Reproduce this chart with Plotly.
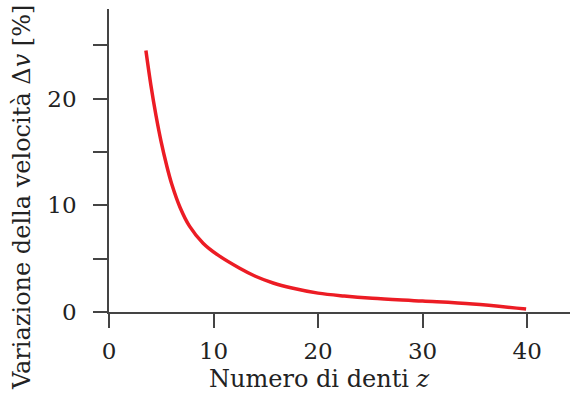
import plotly.graph_objects as go

teeth_z = [3.53, 4.0, 4.5, 5.0, 5.5, 6.0, 6.8, 7.7, 9.0, 10.4, 12.5, 14.0, 15.7, 17.5, 20.0, 22.5, 25.2, 30.0, 34.8, 39.9]
delta_v = [24.5, 21.3, 18.4, 15.9, 13.8, 12.0, 9.8, 8.05, 6.45, 5.35, 4.1, 3.35, 2.72, 2.25, 1.77, 1.5, 1.29, 1.03, 0.75, 0.28]

x_ticks = [0, 10, 20, 30, 40]
y_ticks = [0, 5, 10, 15, 20, 25]
y_tick_text = ["0", "", "10", "", "20", ""]

x_title = "Numero di denti <i>z</i>"
y_title = "Variazione della velocità Δ<i>v</i> [%]"

font_family = "DejaVu Serif"

fig = go.Figure()
fig.add_trace(go.Scatter(
    x=teeth_z, y=delta_v, mode="lines",
    line=dict(color="#EC1C24", width=3.5, shape="spline", smoothing=1.0),
    showlegend=False, hoverinfo="skip",
))

fig.update_layout(
    width=570, height=396,
    margin=dict(l=109, r=0, t=9, b=84),
    paper_bgcolor="white", plot_bgcolor="white",
    font=dict(family=font_family, size=23, color="#222"),
    xaxis=dict(
        range=[0, 44.1], tickvals=x_ticks, ticks="outside", ticklen=14, tickwidth=1.5,
        tickcolor="#444", showline=True, linecolor="#444", linewidth=1.5,
        showgrid=False, zeroline=False, automargin=False, ticklabelstandoff=4,
        tickfont=dict(size=23),
    ),
    yaxis=dict(
        range=[0, 28.4], tickvals=y_ticks, ticktext=y_tick_text, ticks="outside", ticklen=14,
        tickwidth=1.5, tickcolor="#444", showline=True, linecolor="#444", linewidth=1.5,
        showgrid=False, zeroline=False, automargin=False, ticklabelstandoff=12,
        tickfont=dict(size=23),
    ),
    annotations=[
        dict(text=x_title, xref="paper", yref="paper", x=0.4577, y=-0.221,
             xanchor="center", yanchor="middle", showarrow=False,
             font=dict(size=24, family=font_family, color="#222")),
        dict(text=y_title, xref="paper", yref="paper", x=-0.1887, y=0.376,
             xanchor="center", yanchor="middle", showarrow=False, textangle=-90,
             font=dict(size=24, family=font_family, color="#222")),
    ],
)

fig.write_html("out.html", config={"displayModeBar": False},
               post_script="document.body.style.margin='0';document.body.style.padding='0';")
